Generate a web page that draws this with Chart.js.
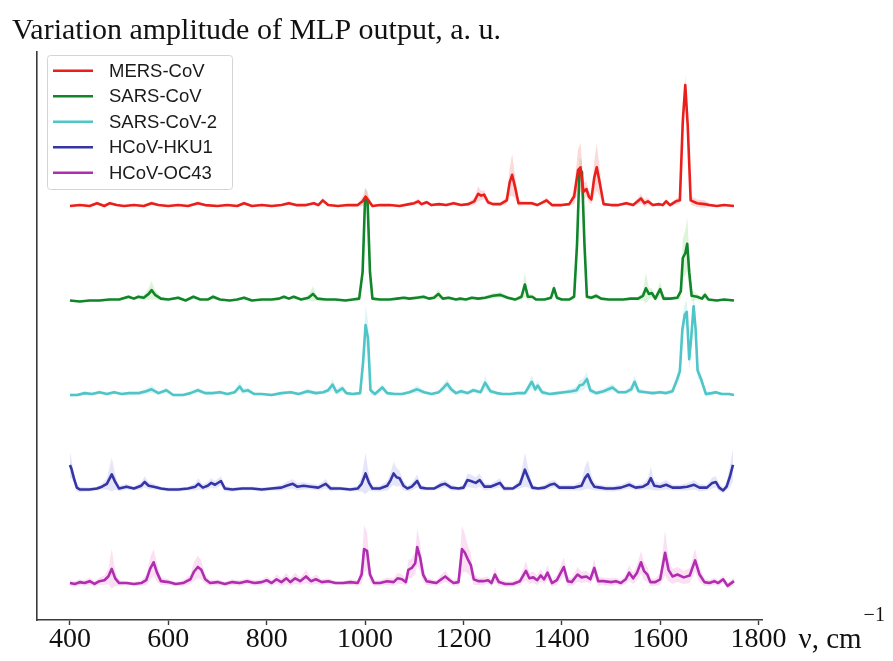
<!DOCTYPE html>
<html><head><meta charset="utf-8">
<script src="https://cdn.jsdelivr.net/npm/chart.js@4.4.1/dist/chart.umd.min.js"></script>
<style>html,body{margin:0;padding:0;background:#fff}#wrap{width:893px;height:661px;position:relative}</style>
</head><body><div id="wrap"><canvas id="c"></canvas></div>
<script>
const titleText = 'Variation amplitude of MLP output, a. u.';
const xAxisLabel = 'ν, cm';
const xAxisExp = '−1';
const seriesNames = ['MERS-CoV', 'SARS-CoV', 'SARS-CoV-2', 'HCoV-HKU1', 'HCoV-OC43'];
const seriesOffsets = [4, 3, 2, 1, 0];
const xTicks = [400, 600, 800, 1000, 1200, 1400, 1600, 1800];
const xRange = [333, 1807];
const yRange = [-0.381, 5.63];

// [wavenumber, mean amplitude, spread]
const mers = [
[400,0.00,0.01],[420,0.01,0.01],[440,0.00,0.01],[455,0.03,0.015],[470,0.00,0.01],[481,0.03,0.015],[495,0.01,0.01],[510,0.00,0.01],
[530,0.01,0.01],[550,0.00,0.01],[566,0.03,0.02],[580,0.01,0.01],[600,0.00,0.01],[620,0.01,0.01],[640,0.00,0.01],[660,0.03,0.02],
[675,0.01,0.01],[700,0.00,0.01],[720,0.01,0.01],[740,0.00,0.01],[754,0.03,0.02],[770,0.00,0.01],[790,0.01,0.01],[810,0.00,0.01],
[830,0.01,0.01],[845,0.03,0.02],[860,0.01,0.01],[880,0.01,0.01],[896,0.03,0.02],[905,0.01,0.01],[914,0.06,0.03],[925,0.01,0.01],
[945,0.00,0.01],[965,0.01,0.01],[985,0.01,0.015],[995,0.05,0.05],[1001,0.10,0.10],[1008,0.05,0.05],[1015,0.00,0.015],[1030,0.01,0.01],
[1050,0.01,0.01],[1070,0.00,0.01],[1090,0.02,0.015],[1100,0.03,0.02],[1108,0.05,0.03],[1115,0.02,0.015],[1125,0.04,0.02],[1135,0.01,0.01],
[1150,0.02,0.015],[1165,0.01,0.01],[1180,0.03,0.02],[1195,0.01,0.01],[1210,0.02,0.02],[1222,0.05,0.04],[1230,0.13,0.08],[1236,0.11,0.05],
[1242,0.12,0.05],[1250,0.04,0.03],[1260,0.02,0.015],[1275,0.02,0.015],[1288,0.06,0.04],[1294,0.25,0.15],[1299,0.33,0.22],[1305,0.20,0.12],
[1312,0.03,0.03],[1325,0.03,0.02],[1339,0.03,0.02],[1350,0.01,0.01],[1369,0.06,0.03],[1380,0.01,0.01],[1400,0.01,0.01],[1415,0.02,0.015],
[1425,0.10,0.08],[1433,0.38,0.22],[1438,0.41,0.26],[1444,0.15,0.1],[1450,0.18,0.08],[1455,0.10,0.06],[1460,0.07,0.05],[1466,0.30,0.18],
[1471,0.41,0.25],[1477,0.25,0.15],[1485,0.02,0.02],[1500,0.01,0.01],[1515,0.01,0.01],[1531,0.03,0.02],[1545,0.01,0.015],[1561,0.08,0.05],
[1568,0.03,0.04],[1575,0.05,0.04],[1585,0.01,0.015],[1598,0.02,0.02],[1605,0.01,0.01],[1612,0.05,0.03],[1620,0.01,0.015],[1632,0.05,0.03],
[1640,0.06,0.04],[1646,0.90,0.08],[1651,1.28,0.10],[1656,0.85,0.08],[1662,0.06,0.05],[1675,0.03,0.04],[1690,0.02,0.04],[1700,0.01,0.02],
[1715,0.00,0.01],[1730,0.01,0.01],[1750,0.00,0.01]
];
const sarsCov = [
[400,0.00,0.01],[420,-0.01,0.01],[440,0.00,0.01],[460,0.00,0.01],[480,0.01,0.01],[500,0.01,0.01],[519,0.04,0.02],[530,0.02,0.015],
[539,0.04,0.02],[550,0.03,0.03],[560,0.07,0.06],[566,0.11,0.10],[573,0.06,0.05],[585,0.02,0.02],[600,0.01,0.01],[620,0.03,0.02],
[635,0.00,0.01],[651,0.04,0.02],[665,0.01,0.01],[680,0.01,0.01],[691,0.04,0.03],[705,0.01,0.01],[725,0.00,0.01],[740,0.01,0.01],
[754,0.03,0.02],[770,0.00,0.01],[790,0.01,0.01],[810,0.01,0.01],[825,0.02,0.015],[835,0.04,0.02],[845,0.02,0.015],[855,0.04,0.02],
[870,0.01,0.01],[885,0.03,0.03],[894,0.07,0.08],[903,0.02,0.02],[920,0.01,0.01],[940,0.01,0.01],[960,0.00,0.01],[975,0.01,0.01],
[988,0.02,0.02],[995,0.30,0.06],[1000,1.08,0.10],[1005,1.06,0.10],[1010,0.30,0.06],[1015,0.02,0.02],[1030,0.01,0.01],[1050,0.01,0.01],
[1065,0.02,0.015],[1079,0.03,0.02],[1090,0.02,0.015],[1105,0.03,0.02],[1119,0.04,0.02],[1130,0.02,0.015],[1140,0.03,0.02],[1149,0.07,0.05],
[1158,0.02,0.015],[1170,0.03,0.02],[1185,0.01,0.01],[1193,0.02,0.015],[1205,0.01,0.01],[1217,0.03,0.02],[1230,0.02,0.015],[1244,0.03,0.02],
[1260,0.05,0.03],[1275,0.06,0.03],[1290,0.03,0.02],[1305,0.01,0.015],[1318,0.04,0.03],[1325,0.17,0.13],[1331,0.04,0.04],[1340,0.04,0.02],
[1348,0.01,0.01],[1365,0.01,0.01],[1378,0.03,0.02],[1384,0.13,0.06],[1390,0.03,0.03],[1400,0.01,0.01],[1415,0.01,0.01],[1425,0.04,0.03],
[1431,0.60,0.08],[1436,1.39,0.12],[1441,1.36,0.12],[1446,0.60,0.08],[1451,0.04,0.03],[1460,0.03,0.02],[1470,0.05,0.03],[1480,0.02,0.015],
[1495,0.01,0.01],[1510,0.01,0.01],[1525,0.01,0.01],[1540,0.02,0.015],[1555,0.02,0.02],[1565,0.05,0.05],[1571,0.13,0.16],[1577,0.07,0.06],
[1583,0.08,0.05],[1590,0.02,0.03],[1600,0.12,0.08],[1607,0.02,0.03],[1620,0.02,0.015],[1635,0.03,0.02],[1642,0.10,0.08],[1646,0.45,0.2],
[1651,0.50,0.24],[1655,0.60,0.28],[1659,0.30,0.2],[1664,0.05,0.06],[1675,0.04,0.03],[1685,0.02,0.02],[1691,0.06,0.04],[1698,0.01,0.015],
[1715,0.00,0.01],[1730,0.01,0.01],[1750,0.00,0.01]
];
const sarsCov2 = [
[400,0.00,0.015],[415,0.00,0.015],[430,0.02,0.02],[445,0.01,0.015],[460,0.03,0.02],[475,0.01,0.015],[490,0.03,0.02],[505,0.01,0.015],
[520,0.02,0.015],[540,0.02,0.015],[555,0.04,0.03],[566,0.06,0.04],[580,0.02,0.02],[596,0.05,0.03],[610,0.00,0.015],[630,0.00,0.015],
[645,0.02,0.02],[660,0.05,0.03],[675,0.02,0.02],[690,0.02,0.015],[705,0.03,0.02],[720,0.01,0.015],[735,0.03,0.02],[745,0.09,0.05],
[752,0.04,0.03],[762,0.05,0.03],[775,0.01,0.015],[790,0.01,0.015],[810,0.00,0.015],[830,0.02,0.015],[849,0.03,0.02],[865,0.01,0.015],
[883,0.04,0.03],[900,0.02,0.02],[915,0.03,0.02],[925,0.05,0.03],[934,0.11,0.06],[942,0.03,0.03],[954,0.07,0.04],[962,0.02,0.02],
[975,0.01,0.015],[990,0.02,0.02],[996,0.35,0.12],[1001,0.74,0.21],[1006,0.60,0.18],[1011,0.05,0.05],[1020,0.01,0.02],[1035,0.08,0.04],
[1045,0.02,0.02],[1060,0.01,0.015],[1075,0.01,0.015],[1090,0.03,0.02],[1106,0.06,0.04],[1120,0.03,0.02],[1135,0.01,0.015],[1150,0.03,0.02],
[1160,0.08,0.04],[1167,0.12,0.05],[1175,0.06,0.04],[1185,0.02,0.02],[1195,0.04,0.03],[1208,0.02,0.02],[1220,0.05,0.03],[1235,0.03,0.02],
[1244,0.13,0.07],[1255,0.04,0.03],[1268,0.02,0.02],[1280,0.01,0.015],[1295,0.01,0.015],[1310,0.02,0.015],[1325,0.02,0.02],[1339,0.14,0.07],
[1346,0.06,0.04],[1351,0.10,0.05],[1360,0.03,0.03],[1375,0.01,0.015],[1390,0.02,0.02],[1405,0.03,0.02],[1420,0.04,0.03],[1430,0.05,0.04],
[1436,0.10,0.06],[1443,0.11,0.06],[1451,0.17,0.08],[1458,0.05,0.04],[1470,0.02,0.02],[1485,0.04,0.03],[1503,0.08,0.04],[1515,0.03,0.02],
[1530,0.03,0.02],[1541,0.06,0.04],[1548,0.14,0.07],[1556,0.04,0.03],[1570,0.03,0.02],[1585,0.02,0.02],[1600,0.03,0.02],[1612,0.02,0.02],
[1625,0.04,0.03],[1634,0.16,0.06],[1640,0.25,0.08],[1645,0.69,0.12],[1650,0.85,0.12],[1654,0.88,0.12],[1659,0.38,0.12],[1663,0.60,0.12],
[1668,0.94,0.12],[1672,0.70,0.12],[1676,0.26,0.08],[1683,0.17,0.06],[1693,0.01,0.03],[1705,0.02,0.02],[1713,0.03,0.02],[1725,0.01,0.015],
[1740,0.01,0.015],[1750,0.00,0.015]
];
const hku1 = [
[400,0.26,0.14],[403,0.22,0.1],[408,0.12,0.06],[414,0.02,0.04],[420,0.00,0.03],[440,0.00,0.02],[455,0.01,0.02],[465,0.03,0.03],
[475,0.06,0.06],[485,0.16,0.18],[492,0.08,0.08],[500,0.01,0.03],[515,0.03,0.03],[530,0.01,0.02],[545,0.04,0.04],[552,0.08,0.06],
[560,0.04,0.04],[570,0.03,0.03],[585,0.01,0.02],[600,0.00,0.02],[620,0.00,0.02],[640,0.01,0.02],[655,0.03,0.04],[661,0.06,0.06],
[670,0.02,0.03],[680,0.04,0.04],[687,0.07,0.05],[695,0.05,0.04],[707,0.09,0.05],[715,0.01,0.03],[730,0.00,0.02],[750,0.01,0.02],
[770,0.01,0.02],[790,0.00,0.02],[810,0.01,0.02],[830,0.02,0.03],[840,0.04,0.04],[853,0.06,0.05],[862,0.03,0.04],[875,0.04,0.04],
[890,0.03,0.03],[905,0.02,0.03],[920,0.06,0.05],[930,0.01,0.03],[950,0.01,0.02],[970,0.00,0.02],[985,0.01,0.03],[993,0.06,0.08],
[1001,0.17,0.22],[1008,0.07,0.08],[1015,0.01,0.03],[1030,0.01,0.03],[1045,0.04,0.05],[1052,0.10,0.08],[1058,0.17,0.12],[1064,0.13,0.1],
[1070,0.12,0.08],[1078,0.04,0.05],[1086,0.01,0.03],[1095,0.03,0.04],[1106,0.09,0.07],[1113,0.02,0.03],[1125,0.01,0.02],[1140,0.01,0.02],
[1155,0.05,0.04],[1163,0.06,0.04],[1175,0.02,0.03],[1190,0.01,0.02],[1200,0.02,0.03],[1208,0.10,0.07],[1215,0.09,0.07],[1225,0.07,0.06],
[1233,0.10,0.07],[1243,0.03,0.04],[1255,0.03,0.03],[1265,0.05,0.04],[1274,0.07,0.05],[1283,0.01,0.03],[1300,0.01,0.02],[1315,0.06,0.05],
[1325,0.21,0.18],[1332,0.12,0.1],[1340,0.02,0.03],[1352,0.01,0.02],[1365,0.02,0.03],[1376,0.05,0.04],[1385,0.06,0.04],[1395,0.02,0.03],
[1410,0.02,0.03],[1425,0.02,0.03],[1440,0.04,0.05],[1447,0.12,0.12],[1453,0.16,0.15],[1460,0.08,0.08],[1466,0.03,0.04],[1478,0.02,0.03],
[1490,0.01,0.03],[1505,0.01,0.03],[1520,0.02,0.03],[1537,0.05,0.04],[1550,0.02,0.03],[1565,0.03,0.03],[1575,0.06,0.06],[1581,0.12,0.12],
[1588,0.04,0.05],[1600,0.03,0.04],[1612,0.05,0.05],[1625,0.02,0.03],[1640,0.02,0.03],[1655,0.03,0.04],[1669,0.05,0.05],[1680,0.02,0.04],
[1695,0.02,0.03],[1706,0.07,0.06],[1713,0.08,0.06],[1720,0.02,0.04],[1728,-0.01,0.03],[1735,0.03,0.04],[1742,0.14,0.12],[1748,0.26,0.17]
];
const oc43 = [
[400,0.01,0.03],[410,0.00,0.03],[420,0.02,0.03],[430,0.01,0.03],[440,0.03,0.04],[450,0.00,0.03],[460,0.03,0.04],[470,0.04,0.05],
[478,0.08,0.08],[485,0.16,0.21],[492,0.06,0.08],[500,0.01,0.03],[515,0.01,0.02],[530,0.00,0.02],[545,0.01,0.03],[555,0.04,0.05],
[563,0.16,0.12],[570,0.23,0.14],[577,0.12,0.1],[585,0.03,0.04],[600,0.02,0.03],[615,0.00,0.02],[630,0.01,0.03],[645,0.05,0.05],
[652,0.13,0.1],[660,0.18,0.12],[667,0.15,0.1],[675,0.05,0.05],[685,0.01,0.03],[700,0.02,0.03],[715,0.00,0.02],[730,0.02,0.03],
[745,0.01,0.03],[760,0.03,0.03],[775,0.01,0.03],[790,0.02,0.03],[800,0.04,0.04],[810,0.01,0.03],[820,0.05,0.05],[830,0.02,0.04],
[840,0.06,0.06],[848,0.02,0.04],[858,0.06,0.06],[868,0.03,0.04],[880,0.08,0.07],[890,0.03,0.04],[900,0.05,0.05],[912,0.02,0.03],
[925,0.03,0.03],[940,0.01,0.02],[955,0.01,0.02],[970,0.02,0.03],[985,0.01,0.03],[993,0.10,0.1],[998,0.37,0.25],[1004,0.35,0.2],
[1010,0.10,0.08],[1018,0.01,0.03],[1030,0.01,0.03],[1045,0.03,0.04],[1058,0.02,0.04],[1066,0.06,0.06],[1075,0.05,0.05],[1083,0.02,0.04],
[1088,0.15,0.1],[1095,0.17,0.1],[1102,0.22,0.12],[1106,0.39,0.2],[1112,0.28,0.15],[1118,0.10,0.08],[1125,0.03,0.04],[1135,0.02,0.03],
[1145,0.01,0.03],[1155,0.05,0.05],[1163,0.08,0.06],[1172,0.04,0.04],[1180,0.01,0.03],[1190,0.02,0.04],[1197,0.37,0.25],[1203,0.33,0.2],
[1209,0.26,0.15],[1215,0.20,0.12],[1221,0.05,0.06],[1230,0.03,0.04],[1240,0.03,0.04],[1250,0.04,0.04],[1257,0.01,0.03],[1264,0.10,0.08],
[1272,0.02,0.04],[1285,0.00,0.03],[1300,0.00,0.03],[1315,0.03,0.04],[1327,0.14,0.1],[1334,0.06,0.06],[1342,0.07,0.06],[1350,0.04,0.05],
[1357,0.09,0.07],[1364,0.05,0.05],[1371,0.12,0.08],[1380,0.01,0.04],[1390,0.04,0.05],[1404,0.18,0.1],[1412,0.03,0.05],[1420,0.02,0.04],
[1432,0.10,0.08],[1440,0.07,0.06],[1450,0.08,0.06],[1458,0.05,0.05],[1466,0.17,0.1],[1474,0.03,0.05],[1485,0.03,0.04],[1500,0.02,0.04],
[1510,0.03,0.04],[1520,0.01,0.03],[1530,0.05,0.05],[1537,0.12,0.08],[1545,0.06,0.06],[1553,0.12,0.08],[1561,0.23,0.12],[1567,0.14,0.1],
[1574,0.10,0.08],[1580,0.02,0.04],[1590,0.02,0.04],[1600,0.05,0.06],[1610,0.33,0.24],[1617,0.15,0.12],[1625,0.08,0.08],[1635,0.10,0.08],
[1648,0.07,0.07],[1660,0.09,0.08],[1671,0.25,0.12],[1680,0.10,0.08],[1690,0.02,0.04],[1700,0.01,0.03],[1710,0.03,0.04],[1718,0.01,0.03],
[1728,0.05,0.04],[1737,-0.02,0.03],[1750,0.03,0.04]
];

const seriesData = [mers, sarsCov, sarsCov2, hku1, oc43];
const lineColors = ['#ea1f1b', '#10852a', '#50c5c8', '#3535a6', '#b02db0'];
const bandColors = ['rgba(240,70,70,0.20)', 'rgba(90,200,70,0.20)', 'rgba(90,205,215,0.20)', 'rgba(100,100,225,0.16)', 'rgba(235,100,200,0.20)'];

const datasets = [];
seriesData.forEach((s, i) => {
  const off = seriesOffsets[i];
  const lowIdx = datasets.length;
  datasets.push({data: s.map(p => ({x: p[0], y: off + p[1] - p[2]})), borderColor: 'rgba(0,0,0,0)', borderWidth: 1, pointRadius: 0, fill: false, tension: 0, order: 2});
  datasets.push({data: s.map(p => ({x: p[0], y: off + p[1] + p[2]})), borderColor: 'rgba(0,0,0,0)', borderWidth: 1, pointRadius: 0, fill: lowIdx, backgroundColor: bandColors[i], tension: 0, order: 2});
});
seriesData.forEach((s, i) => {
  datasets.push({label: seriesNames[i], data: s.map(p => ({x: p[0], y: seriesOffsets[i] + p[1]})), borderColor: lineColors[i], borderWidth: 2.6, pointRadius: 0, fill: false, tension: 0, order: 0, borderJoinStyle: 'round'});
});

const overlay = {
  id: 'overlay',
  afterDraw(chart) {
    const ctx = chart.ctx;
    ctx.save();
    ctx.fillStyle = '#111';
    ctx.textAlign = 'left';
    ctx.textBaseline = 'alphabetic';
    ctx.font = '30px "Liberation Serif"';
    ctx.fillText(titleText, 12, 39);
    const xl = chart.scales.x.getPixelForValue(xTicks[xTicks.length - 1]) + 40;
    ctx.font = '29px "Liberation Serif"';
    ctx.fillText(xAxisLabel, xl, 648);
    const w = ctx.measureText(xAxisLabel).width;
    ctx.font = '20px "Liberation Serif"';
    ctx.fillText(xAxisExp, xl + w + 2, 621);
    // legend
    const lx = 47.5, ly = 55.5, lw = 185, lh = 134;
    ctx.beginPath();
    ctx.roundRect(lx, ly, lw, lh, 3);
    ctx.fillStyle = 'rgba(255,255,255,0.85)';
    ctx.fill();
    ctx.strokeStyle = '#d4d4d4';
    ctx.lineWidth = 1;
    ctx.stroke();
    ctx.font = '18.5px "Liberation Sans"';
    ctx.textBaseline = 'middle';
    seriesNames.forEach((n, i) => {
      const yy = 70.7 + i * 25.5;
      ctx.beginPath();
      ctx.moveTo(53, yy); ctx.lineTo(93, yy);
      ctx.strokeStyle = lineColors[i];
      ctx.lineWidth = 2.4;
      ctx.stroke();
      ctx.fillStyle = '#1a1a1a';
      ctx.fillText(n, 109, yy + 1);
    });
    ctx.restore();
  }
};

new Chart(document.getElementById('c'), {
  type: 'line',
  data: {datasets},
  options: {
    responsive: true,
    maintainAspectRatio: false,
    animation: false,
    devicePixelRatio: 1,
    layout: {padding: {left: 0, right: 131, top: 52, bottom: 0}},
    plugins: {legend: {display: false}, tooltip: {enabled: false}, title: {display: false}},
    scales: {
      x: {
        type: 'linear', min: xRange[0], max: xRange[1], position: 'bottom',
        border: {display: true, color: '#3a3a3a', width: 1.6},
        grid: {display: true, drawOnChartArea: false, drawTicks: true, tickLength: 5, color: '#3a3a3a', tickWidth: 1.4},
        ticks: {font: {family: 'Liberation Serif', size: 28, lineHeight: 1}, color: '#111', padding: 1, autoSkip: false, maxRotation: 0, callback: v => String(v)},
        afterBuildTicks: sc => { sc.ticks = xTicks.map(v => ({value: v})); },
        afterFit: sc => { sc.height = 41; }
      },
      y: {
        type: 'linear', min: yRange[0], max: yRange[1],
        border: {display: true, color: '#3a3a3a', width: 1.6},
        grid: {display: false},
        ticks: {display: false},
        afterFit: sc => { sc.width = 37; }
      }
    }
  },
  plugins: [overlay]
});
</script>
</body></html>
